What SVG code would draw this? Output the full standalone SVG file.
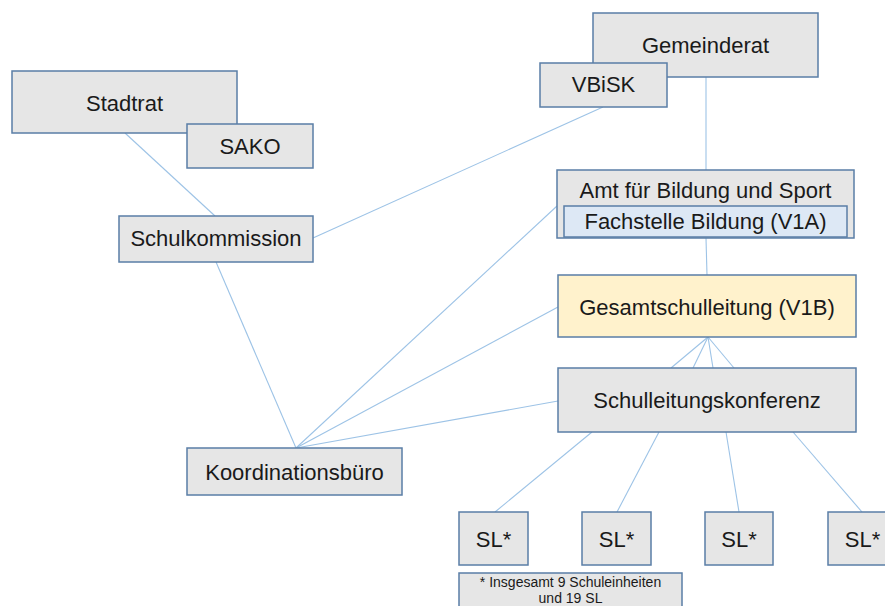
<svg xmlns="http://www.w3.org/2000/svg" width="885" height="606" viewBox="0 0 885 606">
<style>
.box{fill:#e6e6e6;stroke:#5a7ea6;stroke-width:1.5}
.yel{fill:#fff2cc}
.blu{fill:#dde8f5}
.t{font-family:"Liberation Sans",Arial,sans-serif;font-size:22px;fill:#1a1a1a;text-anchor:middle}
.s{font-size:14px}
.c line{stroke:#9dc3e6;stroke-width:1.1;fill:none}
</style>
<rect width="885" height="606" fill="#ffffff"/>
<g class="c" id="connectors">
<line x1="125" y1="133" x2="215" y2="216"/>
<line x1="603" y1="107" x2="313" y2="238"/>
<line x1="706" y1="77" x2="706" y2="170"/>
<line x1="706" y1="238" x2="707" y2="275"/>
<line x1="216" y1="262" x2="296" y2="448"/>
<line x1="557" y1="206" x2="296" y2="448"/>
<line x1="558" y1="307" x2="296" y2="448"/>
<line x1="558" y1="401" x2="296" y2="448"/>
<line x1="708" y1="337" x2="671" y2="368"/>
<line x1="708" y1="337" x2="693" y2="368"/>
<line x1="708" y1="337" x2="713" y2="368"/>
<line x1="708" y1="337" x2="734" y2="368"/>
<line x1="592" y1="432" x2="495" y2="512"/>
<line x1="659" y1="432" x2="617" y2="512"/>
<line x1="726" y1="432" x2="739" y2="512"/>
<line x1="793" y1="432" x2="862" y2="512"/>
</g>
<g id="stadtrat"><rect class="box" x="12" y="71" width="225" height="62"/><text class="t" x="124.5" y="111">Stadtrat</text></g>
<g id="sako"><rect class="box" x="187" y="124" width="126" height="44"/><text class="t" x="250" y="154">SAKO</text></g>
<g id="schulkommission"><rect class="box" x="119" y="216" width="194" height="46"/><text class="t" x="216" y="246">Schulkommission</text></g>
<g id="gemeinderat"><rect class="box" x="593" y="13" width="225" height="64"/><text class="t" x="705.5" y="53">Gemeinderat</text></g>
<g id="vbisk"><rect class="box" x="540" y="63" width="127" height="44"/><text class="t" x="603.5" y="92">VBiSK</text></g>
<g id="amt"><rect class="box" x="557" y="170" width="297" height="68"/><text class="t" x="705.5" y="198">Amt für Bildung und Sport</text>
<rect class="box blu" x="564" y="206" width="283" height="31"/><text class="t" x="705.5" y="229">Fachstelle Bildung (V1A)</text></g>
<g id="gesamtschulleitung"><rect class="box yel" x="558" y="275" width="298" height="62"/><text class="t" x="707" y="315">Gesamtschulleitung (V1B)</text></g>
<g id="schulleitungskonferenz"><rect class="box" x="558" y="368" width="298" height="64"/><text class="t" x="707" y="408">Schulleitungskonferenz</text></g>
<g id="koordinationsbuero"><rect class="box" x="187" y="448" width="215" height="47"/><text class="t" x="294.5" y="480">Koordinationsbüro</text></g>
<g id="sl1"><rect class="box" x="459" y="512" width="69" height="53"/><text class="t" x="493.5" y="547">SL*</text></g>
<g id="sl2"><rect class="box" x="582" y="512" width="69" height="53"/><text class="t" x="616.5" y="547">SL*</text></g>
<g id="sl3"><rect class="box" x="705" y="512" width="68" height="53"/><text class="t" x="739" y="547">SL*</text></g>
<g id="sl4"><rect class="box" x="828" y="512" width="69" height="53"/><text class="t" x="862.5" y="547">SL*</text></g>
<g id="footnote"><rect class="box" x="459" y="573" width="223" height="40"/><text class="t s" x="570.5" y="587">* Insgesamt 9 Schuleinheiten</text><text class="t s" x="570.5" y="603">und 19 SL</text></g>
</svg>
